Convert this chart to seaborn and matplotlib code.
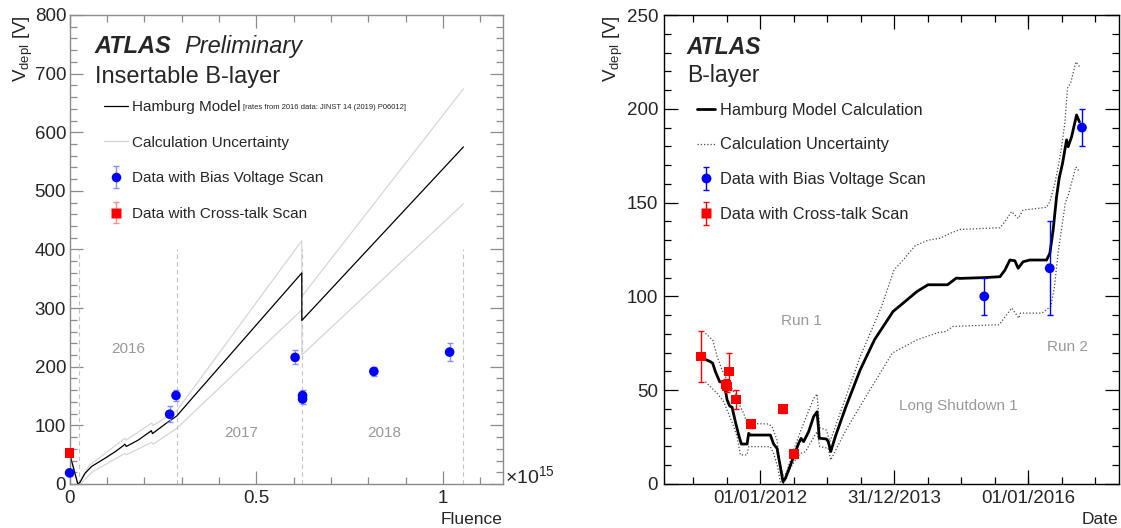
import numpy as np
import pandas as pd
import matplotlib
matplotlib.use("Agg")
import matplotlib.pyplot as plt
import matplotlib.dates as mdates
from matplotlib.ticker import MultipleLocator, FuncFormatter, FixedLocator
from matplotlib.legend_handler import HandlerErrorbar
from matplotlib.container import ErrorbarContainer
from matplotlib.lines import Line2D
import seaborn as sns

# ---------------- Insertable B-layer: V_depl vs fluence [1e15 neq/cm^2] ----------------
ibl_model_fluence = [0.0, 0.022, 0.028, 0.041, 0.059, 0.095, 0.122, 0.145, 0.148, 0.152,
                     0.184, 0.215, 0.219, 0.222, 0.264, 0.287, 0.336, 0.622, 0.6221, 1.055]
ibl_model_vdepl = [52, 0, 3, 18, 30, 44, 55, 66, 68, 64,
                   75, 89, 91, 86, 106, 116, 152, 360, 279, 575]

ibl_upper_fluence = [0.0, 0.022, 0.028, 0.053, 0.095, 0.148, 0.152, 0.22, 0.224, 0.287,
                     0.622, 0.6221, 1.055]
ibl_upper_vdepl = [56, 0, 5, 32, 52, 78, 75, 104, 100, 125, 415, 320, 674]

ibl_lower_fluence = [0.0, 0.022, 0.03, 0.06, 0.095, 0.148, 0.152, 0.22, 0.224, 0.287,
                     0.622, 0.6221, 1.055]
ibl_lower_vdepl = [48, 0, 1, 20, 33, 52, 50, 71, 68, 95, 297, 220, 478]

ibl_bias_fluence = [0.0, 0.268, 0.285, 0.604, 0.624, 0.624, 0.815, 1.018]
ibl_bias_vdepl = [19, 119, 151, 216, 151, 145, 192, 225]
ibl_bias_err = [5, 14, 10, 12, 9, 9, 8, 15]

ibl_xtalk_fluence = [0.0]
ibl_xtalk_vdepl = [53]
ibl_xtalk_err = [6]

ibl_year_bounds = [0.026, 0.287, 0.622, 1.055]
ibl_year_labels = ["2016", "2017", "2018"]
ibl_year_label_pos = [(0.158, 230), (0.459, 86.5), (0.842, 86.5)]

# ---------------- B-layer: V_depl vs date (decimal years) ----------------
bl_model_year = [2011.180, 2011.255, 2011.289, 2011.329, 2011.393, 2011.453, 2011.478, 2011.504,
                 2011.542, 2011.578, 2011.627, 2011.677, 2011.717, 2011.802, 2011.826, 2011.851,
                 2012.149, 2012.198, 2012.249, 2012.298, 2012.338, 2012.373, 2012.422, 2012.496,
                 2012.571, 2012.607, 2012.645, 2012.720, 2012.794, 2012.845, 2012.869, 2012.879,
                 2012.984, 2013.012, 2013.049, 2013.118, 2013.277, 2013.490, 2013.703, 2013.981,
                 2014.130, 2014.341, 2014.502, 2014.794, 2014.927, 2014.981, 2015.328, 2015.577,
                 2015.651, 2015.726, 2015.800, 2015.849, 2015.924, 2016.024, 2016.273, 2016.322,
                 2016.371, 2016.422, 2016.461, 2016.511, 2016.571, 2016.595, 2016.645, 2016.720,
                 2016.763]
bl_model_vdepl = [66.4, 65.2, 64.3, 59.9, 54.5, 54.0, 50.0, 44.8,
                  41.6, 40.9, 33.2, 26.1, 21.3, 21.3, 27.0, 26.1,
                  26.1, 21.3, 19.0, 9.2, 1.2, 3.0, 7.5, 14.6,
                  21.7, 24.3, 22.6, 27.9, 35.9, 38.5, 28.8, 24.4,
                  24.0, 22.6, 17.3, 25.3, 41.3, 60.9, 76.9, 92.0,
                  96.4, 102.7, 106.2, 106.2, 109.8, 109.6, 110.0, 110.5,
                  114.0, 119.4, 119.0, 115.0, 118.5, 119.4, 119.4, 123.0,
                  135.4, 153.2, 163.0, 171.0, 183.4, 179.8, 185.0, 196.7,
                  193.0]

bl_upper_year = [2011.180, 2011.289, 2011.355, 2011.429, 2011.504, 2011.602, 2011.653, 2011.702,
                 2011.751, 2011.802, 2012.124, 2012.174, 2012.249, 2012.298, 2012.338, 2012.387,
                 2012.496, 2012.596, 2012.696, 2012.794, 2012.845, 2012.884, 2012.984, 2013.037,
                 2013.118, 2013.277, 2013.490, 2013.809, 2013.996, 2014.131, 2014.310, 2014.504,
                 2014.683, 2014.832, 2014.981, 2015.577, 2015.651, 2015.751, 2015.849, 2015.924,
                 2016.273, 2016.322, 2016.397, 2016.446, 2016.493, 2016.545, 2016.585, 2016.634,
                 2016.709, 2016.763]
bl_upper_vdepl = [80.3, 76.7, 67.9, 60.7, 55.4, 49.2, 46.5, 41.2,
                  37.7, 32.3, 32.0, 30.6, 23.4, 9.2, 4.8, 5.7,
                  18.1, 27.9, 36.8, 45.6, 48.0, 30.0, 28.8, 22.6,
                  30.6, 46.6, 68.0, 94.7, 114.2, 119.4, 127.0, 130.0,
                  131.0, 133.6, 135.7, 136.6, 139.8, 145.2, 141.6, 146.0,
                  147.5, 150.5, 160.3, 169.1, 178.9, 192.3, 211.0, 214.0,
                  225.0, 222.5]

bl_lower_year = [2011.180, 2011.355, 2011.453, 2011.553, 2011.602, 2011.653, 2011.702, 2011.802,
                 2011.826, 2012.149, 2012.198, 2012.258, 2012.298, 2012.347, 2012.447, 2012.522,
                 2012.596, 2012.671, 2012.770, 2012.845, 2012.884, 2013.012, 2013.049, 2013.277,
                 2013.544, 2013.969, 2014.341, 2014.662, 2014.767, 2014.875, 2015.566, 2015.753,
                 2015.858, 2015.885, 2016.204, 2016.338, 2016.391, 2016.444, 2016.551, 2016.605,
                 2016.630, 2016.709, 2016.763]
bl_lower_vdepl = [54.5, 48.3, 43.9, 35.0, 30.6, 25.2, 15.5, 15.5,
                  19.9, 19.9, 16.3, 9.2, 1.2, 0.4, 8.3, 12.8,
                  16.3, 17.2, 23.4, 27.9, 20.0, 19.0, 12.8, 28.8,
                  44.8, 69.8, 76.9, 80.8, 81.3, 84.0, 84.9, 93.8,
                  88.4, 91.1, 91.1, 94.7, 105.3, 123.0, 149.6, 155.0,
                  158.5, 169.0, 166.5]

bl_xtalk_year = [2011.116, 2011.490, 2011.505, 2011.528, 2011.632, 2011.866, 2012.332, 2012.496]
bl_xtalk_vdepl = [68, 53, 52, 60, 45, 32, 40, 16]
bl_xtalk_err = [13.5, 3, 3, 10, 5, 2, 2, 2]

bl_bias_year = [2015.343, 2016.320, 2016.800]
bl_bias_vdepl = [100, 115, 190]
bl_bias_err = [10, 25, 10]

bl_period_labels = ["Run 1", "Long Shutdown 1", "Run 2"]
bl_period_pos = [(2012.61, 87), (2014.95, 41.6), (2016.59, 72.9)]

bl_major_dates = ["2012-01-01", "2013-12-31", "2016-01-01"]


def to_dates(years):
    out = []
    for y in years:
        yr = int(np.floor(y))
        start = pd.Timestamp(year=yr, month=1, day=1)
        end = pd.Timestamp(year=yr + 1, month=1, day=1)
        out.append(start + (end - start) * (y - yr))
    return pd.to_datetime(out)


# ---------------- style ----------------
sns.set_theme(style="white")
plt.rcParams["font.family"] = ["Liberation Sans", "DejaVu Sans"]
plt.rcParams["mathtext.fontset"] = "custom"
plt.rcParams["mathtext.rm"] = "Liberation Sans"
plt.rcParams["mathtext.it"] = "Liberation Sans:italic"
plt.rcParams["mathtext.bf"] = "Liberation Sans:bold"

W, H = 1121, 528
fig = plt.figure(figsize=(W / 100, H / 100), dpi=100)


def px_box(x0, y0, x1, y1):
    return [x0 / W, 1 - y1 / H, (x1 - x0) / W, (y1 - y0) / H]


def fig_xy(x, y):
    return x / W, 1 - y / H


ax1 = fig.add_axes(px_box(69.6, 15, 502.9, 484))
ax2 = fig.add_axes(px_box(663.6, 15, 1119, 484))

TICK_FS = 13.5
blue, red = "#0000ff", "#ff0000"

# ================= left: IBL =================
band_grey = "#d6d6d6"
sns.lineplot(x=ibl_upper_fluence, y=ibl_upper_vdepl, ax=ax1, color=band_grey, lw=0.9,
             sort=False, estimator=None)
sns.lineplot(x=ibl_lower_fluence, y=ibl_lower_vdepl, ax=ax1, color=band_grey, lw=0.9,
             sort=False, estimator=None)
ax1.vlines(ibl_year_bounds, 0, 400, colors="#c4c4c4", linestyles=(0, (4, 3)), lw=0.8)
sns.lineplot(x=ibl_model_fluence, y=ibl_model_vdepl, ax=ax1, color="black", lw=0.9,
             sort=False, estimator=None)

ax1.errorbar(ibl_bias_fluence, ibl_bias_vdepl, yerr=ibl_bias_err, fmt="none",
             ecolor="#8c8cff", elinewidth=1.0, capsize=2, zorder=4, clip_on=False)
ax1.errorbar(ibl_xtalk_fluence, ibl_xtalk_vdepl, yerr=ibl_xtalk_err, fmt="none",
             ecolor="#ff8c8c", elinewidth=1.0, capsize=2, zorder=4, clip_on=False)
sns.scatterplot(x=ibl_bias_fluence, y=ibl_bias_vdepl, ax=ax1, color=blue, marker="o",
                s=48, edgecolor="none", zorder=5, clip_on=False)
sns.scatterplot(x=ibl_xtalk_fluence, y=ibl_xtalk_vdepl, ax=ax1, color=red, marker="s",
                s=44, edgecolor="none", zorder=5, clip_on=False)

for lab, (fx, vy) in zip(ibl_year_labels, ibl_year_label_pos):
    ax1.text(fx, vy, lab, color="#999999", fontsize=11, ha="center", va="center")

ax1.set_xlim(0, 1.1607)
ax1.set_ylim(0, 800)
ax1.xaxis.set_major_locator(MultipleLocator(0.5))
ax1.xaxis.set_minor_locator(MultipleLocator(0.1))
ax1.yaxis.set_major_locator(MultipleLocator(100))
ax1.yaxis.set_minor_locator(MultipleLocator(20))
ax1.xaxis.set_major_formatter(FuncFormatter(lambda v, p: f"{v:g}"))
frame_grey = "#8c8c8c"
for sp in ax1.spines.values():
    sp.set_color(frame_grey)
    sp.set_linewidth(1.0)
ax1.tick_params(which="both", direction="in", bottom=True, left=True, top=True, right=True,
                color=frame_grey, labelsize=TICK_FS, width=0.9)
ax1.tick_params(which="major", length=9.5)
ax1.tick_params(which="minor", length=4.8)
ax1.tick_params(axis="y", pad=2.5)
ax1.tick_params(axis="x", pad=4)
ax1.set_xlabel("")
ax1.set_ylabel("")

# legend (left)
h_model = Line2D([], [], color="black", lw=0.9)
h_band = Line2D([], [], color=band_grey, lw=0.9)
h_bias = ax1.errorbar([np.nan], [np.nan], yerr=[1], fmt="o", color=blue, ms=6.9, mec="none",
                      ecolor="#8c8cff", elinewidth=1.0, capsize=2)
h_xtalk = ax1.errorbar([np.nan], [np.nan], yerr=[1], fmt="s", color=red, ms=6.6, mec="none",
                       ecolor="#ff8c8c", elinewidth=1.0, capsize=2)
leg1 = ax1.legend([h_model, h_band, h_bias, h_xtalk],
                  ["Hamburg Model", "Calculation Uncertainty", "Data with Bias Voltage Scan",
                   "Data with Cross-talk Scan"],
                  loc="upper left", bbox_to_anchor=fig_xy(104.3, 100), bbox_transform=fig.transFigure,
                  frameon=False, fontsize=11, borderpad=0, borderaxespad=0, handlelength=1.53,
                  handletextpad=0.3, labelspacing=1.42,
                  handler_map={ErrorbarContainer: HandlerErrorbar(xerr_size=0.5, yerr_size=0.7)})

fig.text(*fig_xy(243.3, 108.5), "[rates from 2016 data: JINST 14 (2019) P06012]",
         fontsize=5.5, ha="left", va="baseline")
fig.text(*fig_xy(94.6, 53), "ATLAS", fontsize=17, fontweight="bold", fontstyle="italic",
         ha="left", va="baseline")
fig.text(*fig_xy(184, 53), "Preliminary", fontsize=17, fontstyle="italic",
         ha="left", va="baseline")
fig.text(*fig_xy(94.6, 82.7), "Insertable B-layer", fontsize=17, ha="left", va="baseline")

fig.text(*fig_xy(23, 15), r"V$_{\mathrm{depl}}$ [V]", rotation=90, fontsize=13.5,
         ha="center", va="top")
fig.text(*fig_xy(502.9, 520), "Fluence", fontsize=12.5, ha="right", va="center")
fig.text(*fig_xy(505, 483), r"$\times10^{15}$", fontsize=14, ha="left", va="baseline")

# ================= right: B-layer =================
dot_style = (0, (1, 1.6))
sns.lineplot(x=to_dates(bl_upper_year), y=bl_upper_vdepl, ax=ax2, color="#4a4a4a", lw=0.9,
             linestyle=dot_style, sort=False, estimator=None)
sns.lineplot(x=to_dates(bl_lower_year), y=bl_lower_vdepl, ax=ax2, color="#4a4a4a", lw=0.9,
             linestyle=dot_style, sort=False, estimator=None)
sns.lineplot(x=to_dates(bl_model_year), y=bl_model_vdepl, ax=ax2, color="black", lw=2.0,
             sort=False, estimator=None)

ax2.errorbar(to_dates(bl_xtalk_year), bl_xtalk_vdepl, yerr=bl_xtalk_err, fmt="none",
             ecolor=red, elinewidth=1.0, capsize=2.5, zorder=4)
ax2.errorbar(to_dates(bl_bias_year), bl_bias_vdepl, yerr=bl_bias_err, fmt="none",
             ecolor=blue, elinewidth=1.0, capsize=2.5, zorder=4)
sns.scatterplot(x=to_dates(bl_xtalk_year), y=bl_xtalk_vdepl, ax=ax2, color=red, marker="s",
                s=50, edgecolor="none", zorder=5)
sns.scatterplot(x=to_dates(bl_bias_year), y=bl_bias_vdepl, ax=ax2, color=blue, marker="o",
                s=50, edgecolor="none", zorder=5)

for lab, (yr, vy) in zip(bl_period_labels, bl_period_pos):
    ax2.text(to_dates([yr])[0], vy, lab, color="#999999", fontsize=11, ha="center", va="center")

x_lo, x_hi = to_dates([2010.555, 2017.353])
ax2.set_xlim(x_lo, x_hi)
ax2.set_ylim(0, 250)
majors = mdates.date2num(pd.to_datetime(bl_major_dates))
step = (majors[1] - majors[0]) / 4.0
minors = majors[0] + step * np.arange(-8, 24)
lo_num, hi_num = mdates.date2num(x_lo), mdates.date2num(x_hi)
minors = minors[(minors > lo_num) & (minors < hi_num)]
ax2.xaxis.set_major_locator(FixedLocator(majors))
ax2.xaxis.set_minor_locator(FixedLocator(minors))
ax2.xaxis.set_major_formatter(mdates.DateFormatter("%d/%m/%Y"))
ax2.yaxis.set_major_locator(MultipleLocator(50))
ax2.yaxis.set_minor_locator(MultipleLocator(10))
for sp in ax2.spines.values():
    sp.set_color("black")
    sp.set_linewidth(1.0)
ax2.tick_params(which="both", direction="in", bottom=True, left=True, top=True, right=True,
                color="black", labelsize=TICK_FS, width=0.9)
ax2.tick_params(which="major", length=9.8)
ax2.tick_params(which="minor", length=4.8)
ax2.tick_params(axis="y", pad=4)
ax2.tick_params(axis="x", pad=4)
ax2.set_xlabel("")
ax2.set_ylabel("")

h2_model = Line2D([], [], color="black", lw=2.0)
h2_band = Line2D([], [], color="#4a4a4a", lw=0.9, linestyle=dot_style)
h2_bias = ax2.errorbar([np.nan], [np.nan], yerr=[1], fmt="o", color=blue, ms=7.1, mec="none",
                       ecolor=blue, elinewidth=1.0, capsize=2.5)
h2_xtalk = ax2.errorbar([np.nan], [np.nan], yerr=[1], fmt="s", color=red, ms=7.1, mec="none",
                        ecolor=red, elinewidth=1.0, capsize=2.5)
leg2 = ax2.legend([h2_model, h2_band, h2_bias, h2_xtalk],
                  ["Hamburg Model Calculation", "Calculation Uncertainty",
                   "Data with Bias Voltage Scan", "Data with Cross-talk Scan"],
                  loc="upper left", bbox_to_anchor=fig_xy(696.8, 102.8), bbox_transform=fig.transFigure,
                  frameon=False, fontsize=11.8, borderpad=0, borderaxespad=0, handlelength=1.1,
                  handletextpad=0.3, labelspacing=1.2,
                  handler_map={ErrorbarContainer: HandlerErrorbar(xerr_size=0.5, yerr_size=0.7)})

fig.text(*fig_xy(686.8, 53.5), "ATLAS", fontsize=16.5, fontweight="bold", fontstyle="italic",
         ha="left", va="baseline")
fig.text(*fig_xy(686.8, 81.7), "B-layer", fontsize=16.5, ha="left", va="baseline")
fig.text(*fig_xy(613.6, 15), r"V$_{\mathrm{depl}}$ [V]", rotation=90, fontsize=13.5,
         ha="center", va="top")
fig.text(*fig_xy(1118, 519), "Date", fontsize=12.5, ha="right", va="center")

fig.savefig("out.png", dpi=100)
